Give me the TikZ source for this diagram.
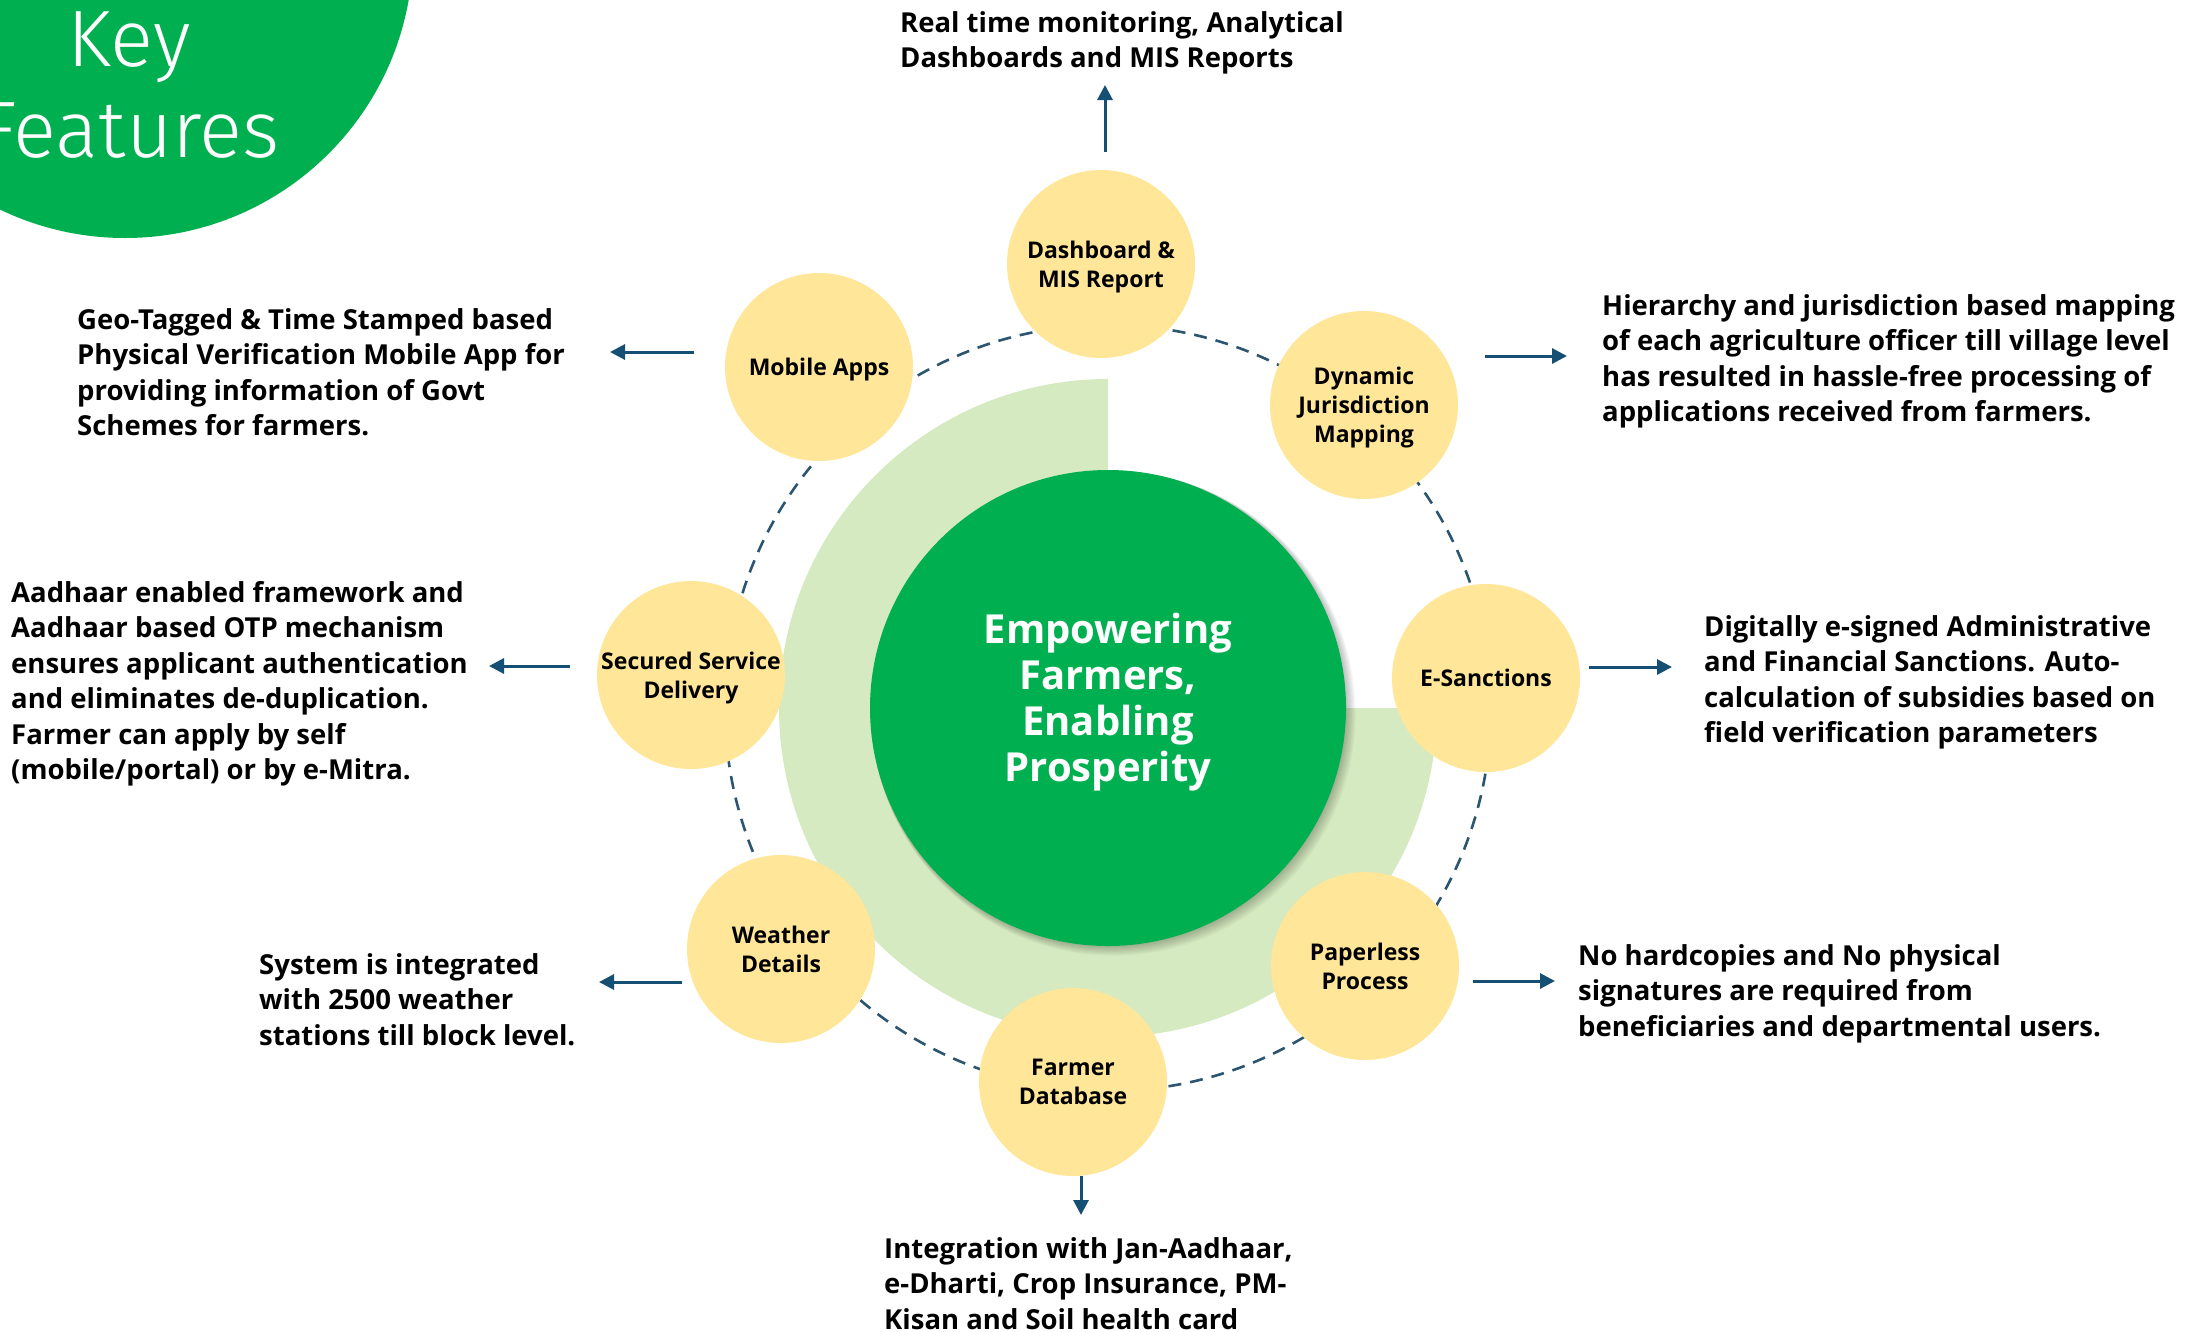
\documentclass[tikz,border=0pt]{standalone}
\usepackage{fontspec}
\setmainfont{Open Sans}
\IfFontExistsTF{FiraSans-Light.otf}{\newfontfamily\kflight{FiraSans-Light.otf}}{%
  \IfFontExistsTF{Fira Sans Light}{\newfontfamily\kflight{Fira Sans Light}}{%
    \IfFontExistsTF{Lato Light}{\newfontfamily\kflight{Lato Light}}{\newfontfamily\kflight{Fira Sans}}}}
\usetikzlibrary{arrows.meta}
\definecolor{kfgreen}{HTML}{00B050}
\definecolor{ringgreen}{HTML}{D5EAC0}
\definecolor{featyellow}{HTML}{FFE699}
\definecolor{arrowblue}{HTML}{154F73}
\definecolor{orbitblue}{HTML}{2C5670}
\begin{document}
\begin{tikzpicture}[x=1pt,y=-1pt,
  desc/.style={font=\fontsize{27.5}{35.5}\selectfont\bfseries, align=left, anchor=base west, inner sep=0pt, text=black},
  feat/.style={circle, fill=featyellow, minimum size=188pt, inner sep=0pt, text depth=0pt, font=\fontsize{23}{29}\selectfont\bfseries, align=center, text=black},
  arr/.style={draw=arrowblue, line width=3pt, -{Triangle[length=15pt,width=15pt]}},
  orbit/.style={draw=orbitblue, line width=2.6pt, dash pattern=on 13pt off 9pt}]
\path[use as bounding box, clip] (0,0) rectangle (2208,1331);
\fill[white] (0,0) rectangle (2208,1331);
% title disc
\fill[kfgreen] (125,-50) circle[radius=288];
\node[font=\kflight\fontsize{80}{91}\selectfont, text=white, align=center, anchor=base, inner sep=0pt] (kf) at (129,157) {Key\\Features};
% light green sector
\fill[ringgreen] (1108,708) -- (1108,379) arc[start angle=270, end angle=0, radius=329] -- cycle;
% shadow and core
\foreach \d in {1,...,8} {\fill[black, opacity=0.03] ({1108+0.7*\d},{708+0.7*\d}) circle[radius={238+0.5*\d}];}
\node[circle, fill=kfgreen, minimum size=476pt, inner sep=0pt] (core) at (1108,708) {};
\node[font=\fontsize{40}{46}\selectfont\bfseries, text=white, align=center, anchor=base, inner sep=0pt] (coretext) at (1108,781) {Empowering\\Farmers,\\Enabling\\Prosperity};
% orbit
\draw[orbit] (1108,708) circle[radius=383];
% feature circles
\node[feat] (dash) at (1101,264) {Dashboard \&\\MIS Report};
\node[feat] (mob) at (819,367) {Mobile Apps};
\node[feat] (dyn) at (1364,405) {Dynamic\\Jurisdiction\\Mapping};
\node[feat] (sec) at (691,675) {Secured Service\\Delivery};
\node[feat] (esan) at (1486,678) {E-Sanctions};
\node[feat] (wea) at (781,949) {Weather\\Details};
\node[feat] (pap) at (1365,966) {Paperless\\Process};
\node[feat] (farm) at (1073,1082) {Farmer\\Database};
% descriptions (anchored at the baseline of their last line)
\node[desc] (tdash) at (900,67.5) {Real time monitoring, Analytical\\Dashboards and MIS Reports};
\node[desc] (tmob) at (77,435.5) {Geo-Tagged \& Time Stamped based\\Physical Verification Mobile App for\\providing information of Govt\\Schemes for farmers.};
\node[desc] (tdyn) at (1602,421.5) {Hierarchy and jurisdiction based mapping\\of each agriculture officer till village level\\has resulted in hassle-free processing of\\applications received from farmers.};
\node[desc] (tsec) at (11,779.5) {Aadhaar enabled framework and\\Aadhaar based OTP mechanism\\ensures applicant authentication\\and eliminates de-duplication.\\Farmer can apply by self\\(mobile/portal) or by e-Mitra.};
\node[desc] (tesan) at (1704,742.5) {Digitally e-signed Administrative\\and Financial Sanctions. Auto-\\calculation of subsidies based on\\field verification parameters};
\node[desc] (twea) at (259,1045) {System is integrated\\with 2500 weather\\stations till block level.};
\node[desc] (tpap) at (1578,1036) {No hardcopies and No physical\\signatures are required from\\beneficiaries and departmental users.};
\node[desc] (tfarm) at (884,1329) {Integration with Jan-Aadhaar,\\e-Dharti, Crop Insurance, PM-\\Kisan and Soil health card};
% arrow ends
\coordinate (dashA) at (1105,152); \coordinate (dashB) at (1105,85);
\coordinate (mobA) at (694,352); \coordinate (mobB) at (610,352);
\coordinate (dynA) at (1485,356); \coordinate (dynB) at (1567,356);
\coordinate (secA) at (570,666); \coordinate (secB) at (489,666);
\coordinate (esanA) at (1589,667); \coordinate (esanB) at (1672,667);
\coordinate (weaA) at (682,982); \coordinate (weaB) at (599,982);
\coordinate (papA) at (1473,981); \coordinate (papB) at (1555,981);
\coordinate (farmA) at (1081,1176); \coordinate (farmB) at (1081,1215);
\foreach \n in {dash,mob,dyn,sec,esan,wea,pap,farm} {\draw[arr] (\n A) -- (\n B);}
\end{tikzpicture}
\end{document}
